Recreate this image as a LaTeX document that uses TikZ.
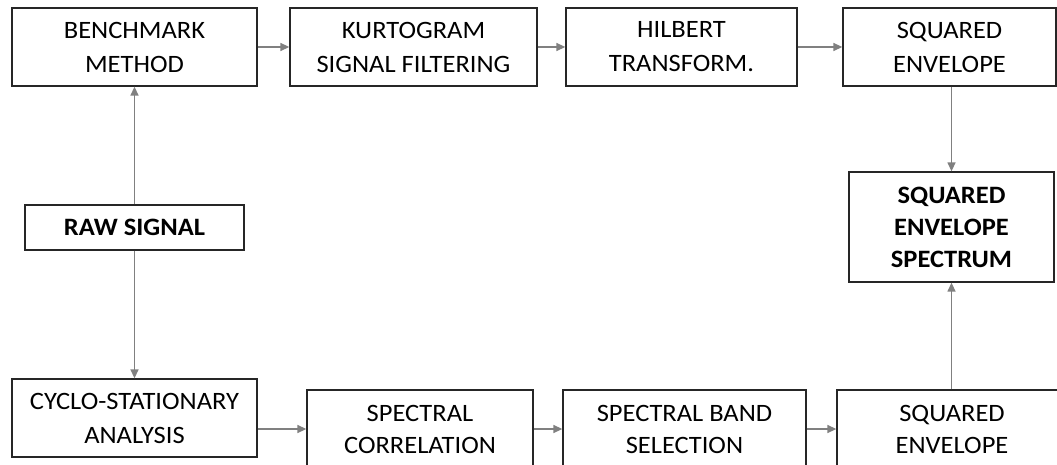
\documentclass[tikz,border=0pt]{standalone}
\usepackage{fontspec}
\setmainfont{Carlito}[FakeStretch=1.06]
\usetikzlibrary{arrows.meta}
\tikzset{
    stage/.style={draw=black!85, line width=1.3pt, align=center, inner sep=0pt,
        font=\fontsize{25}{34}\selectfont},
    flow/.style={draw=black!50, line width=1.4pt, -{Triangle[length=9pt,width=8pt]}},
}

\begin{document}
\begin{tikzpicture}[x=1pt, y=-1pt]

    \useasboundingbox (0,0) rectangle (1057,465);
    \clip (0,0) rectangle (1057,465);

    % top row
    \node[stage, minimum width=245, minimum height=78] (BM) at (134.5,47) {BENCHMARK\\METHOD};
    \node[stage, minimum width=247, minimum height=78] (KF) at (413.5,47) {KURTOGRAM\\SIGNAL FILTERING};
    \node[stage, minimum width=231, minimum height=78] (HT) at (681.5,47) {HILBERT\\TRANSFORM.};
    \node[stage, minimum width=213, minimum height=78] (SE) at (949.5,47) {SQUARED\\ENVELOPE};

    \node[stage, minimum width=219, minimum height=45, font=\fontsize{25}{34}\selectfont\bfseries] (RS) at (134.5,227.5) {RAW SIGNAL};
    \node[stage, minimum width=205, minimum height=110, font=\fontsize{25}{32}\selectfont\bfseries] (SES) at (951.5,227) {SQUARED\\ENVELOPE\\SPECTRUM};

    % bottom row
    \node[stage, minimum width=245, minimum height=78] (CS) at (134.5,418) {CYCLO-STATIONARY\\ANALYSIS};
    \node[stage, minimum width=226, minimum height=78, font=\fontsize{25}{32}\selectfont] (SC) at (420,429) {SPECTRAL\\CORRELATION};
    \node[stage, minimum width=243, minimum height=78, font=\fontsize{25}{32}\selectfont] (SB) at (684.5,429) {SPECTRAL BAND\\SELECTION};
    \node[stage, minimum width=230, minimum height=78, font=\fontsize{25}{32}\selectfont] (SE2) at (952,429) {SQUARED\\ENVELOPE};

    \draw[flow] (RS.north) -- (BM.south);
    \draw[flow] (RS.south) -- (CS.north);
    \draw[flow] (BM) -- (KF);
    \draw[flow] (KF) -- (HT);
    \draw[flow] (HT) -- (SE);
    \draw[flow] (SE.south -| SES.north) -- (SES.north);
    \draw[flow] (CS.east |- SC.west) -- (SC.west);
    \draw[flow] (SC) -- (SB);
    \draw[flow] (SB) -- (SE2);
    \draw[flow] (SE2.north -| SES.south) -- (SES.south);

\end{tikzpicture}
\end{document}
